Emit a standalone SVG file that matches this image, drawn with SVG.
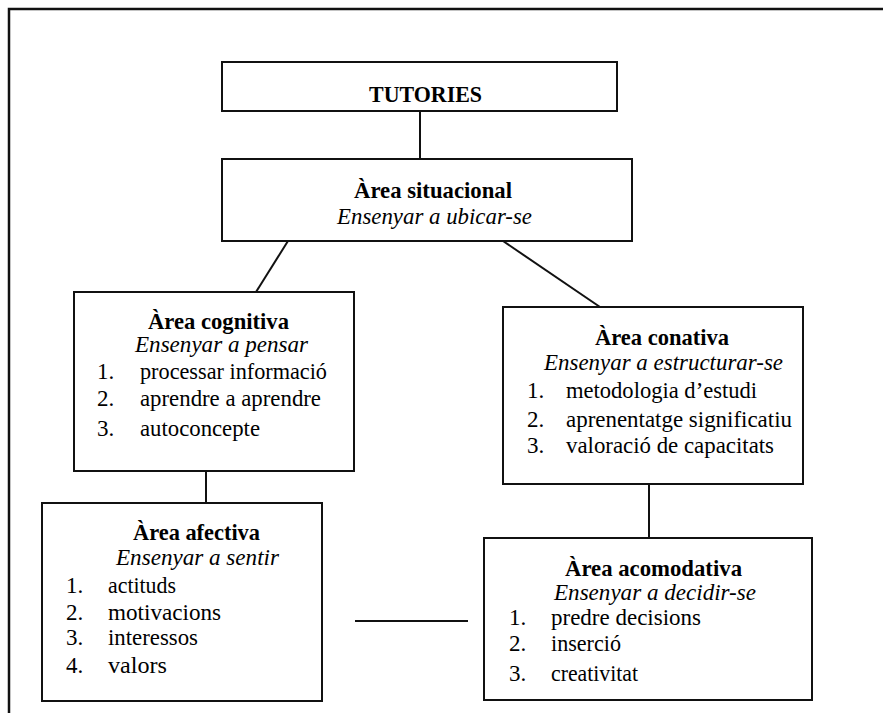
<svg xmlns="http://www.w3.org/2000/svg" width="883" height="713" viewBox="0 0 883 713">
  <style>
    .frame { fill: none; stroke: #111; stroke-width: 2.5; }
    .box { fill: #fff; stroke: #111; stroke-width: 2; }
    .link { fill: none; stroke: #111; stroke-width: 2; }
  </style>

  <rect width="883" height="713" fill="#fff"/>

  <!-- open page frame -->
  <path class="frame" d="M9 713 V9 H883"/>

  <!-- connectors -->
  <g id="connectors">
    <line class="link" x1="420" y1="111" x2="420" y2="159"/>
    <line class="link" x1="288" y1="241" x2="256" y2="292"/>
    <line class="link" x1="503" y1="241" x2="600" y2="307"/>
    <line class="link" x1="206" y1="471" x2="206" y2="503"/>
    <line class="link" x1="649" y1="484" x2="649" y2="538"/>
    <line class="link" x1="355" y1="621" x2="468" y2="621"/>
  </g>

  <g font-family="'Liberation Serif', 'Times New Roman', serif" fill="#000" lengthAdjust="spacingAndGlyphs">
    <g id="tutories">
      <rect class="box" x="222" y="62" width="395" height="49"/>
      <text x="369" y="102" font-size="24" font-weight="bold" textLength="113" lengthAdjust="spacingAndGlyphs">TUTORIES</text>
    </g>

    <g id="area-situacional">
      <rect class="box" x="222" y="159" width="410" height="82"/>
      <text x="354" y="198" font-size="24" font-weight="bold" textLength="158" lengthAdjust="spacingAndGlyphs">Àrea situacional</text>
      <text x="337" y="224" font-size="23" font-style="italic" textLength="195" lengthAdjust="spacingAndGlyphs">Ensenyar a ubicar-se</text>
    </g>

    <g id="area-cognitiva" font-size="23">
      <rect class="box" x="74" y="292" width="280" height="179"/>
      <text x="148" y="329" font-weight="bold" textLength="141" lengthAdjust="spacingAndGlyphs">Àrea cognitiva</text>
      <text x="135" y="352" font-style="italic" textLength="173" lengthAdjust="spacingAndGlyphs">Ensenyar a pensar</text>
      <text x="97" y="379">1.</text>
      <text x="140" y="379" textLength="187" lengthAdjust="spacingAndGlyphs">processar informació</text>
      <text x="97" y="406">2.</text>
      <text x="140" y="406" textLength="181" lengthAdjust="spacingAndGlyphs">aprendre a aprendre</text>
      <text x="97" y="436">3.</text>
      <text x="140" y="436" textLength="120" lengthAdjust="spacingAndGlyphs">autoconcepte</text>
    </g>

    <g id="area-conativa" font-size="23">
      <rect class="box" x="503" y="307" width="300" height="177"/>
      <text x="595" y="345" font-weight="bold" textLength="134" lengthAdjust="spacingAndGlyphs">Àrea conativa</text>
      <text x="544" y="370" font-style="italic" textLength="239" lengthAdjust="spacingAndGlyphs">Ensenyar a estructurar-se</text>
      <text x="527" y="398">1.</text>
      <text x="566" y="398" textLength="191" lengthAdjust="spacingAndGlyphs">metodologia d’estudi</text>
      <text x="527" y="427">2.</text>
      <text x="566" y="427" textLength="226" lengthAdjust="spacingAndGlyphs">aprenentatge significatiu</text>
      <text x="527" y="453">3.</text>
      <text x="566" y="453" textLength="208" lengthAdjust="spacingAndGlyphs">valoració de capacitats</text>
    </g>

    <g id="area-afectiva" font-size="23">
      <rect class="box" x="42" y="503" width="280" height="198"/>
      <text x="133" y="540" font-weight="bold" textLength="127" lengthAdjust="spacingAndGlyphs">Àrea afectiva</text>
      <text x="116" y="565" font-style="italic" textLength="163" lengthAdjust="spacingAndGlyphs">Ensenyar a sentir</text>
      <text x="66" y="593">1.</text>
      <text x="108" y="593" textLength="68" lengthAdjust="spacingAndGlyphs">actituds</text>
      <text x="66" y="620">2.</text>
      <text x="108" y="620" textLength="113" lengthAdjust="spacingAndGlyphs">motivacions</text>
      <text x="66" y="645">3.</text>
      <text x="108" y="645" textLength="90" lengthAdjust="spacingAndGlyphs">interessos</text>
      <text x="66" y="673">4.</text>
      <text x="108" y="673" textLength="59" lengthAdjust="spacingAndGlyphs">valors</text>
    </g>

    <g id="area-acomodativa" font-size="23">
      <rect class="box" x="484" y="538" width="328" height="162"/>
      <text x="565" y="576" font-weight="bold" textLength="177" lengthAdjust="spacingAndGlyphs">Àrea acomodativa</text>
      <text x="554" y="600" font-style="italic" textLength="202" lengthAdjust="spacingAndGlyphs">Ensenyar a decidir-se</text>
      <text x="509" y="625">1.</text>
      <text x="551" y="625" textLength="150" lengthAdjust="spacingAndGlyphs">predre decisions</text>
      <text x="509" y="651">2.</text>
      <text x="551" y="651" textLength="70" lengthAdjust="spacingAndGlyphs">inserció</text>
      <text x="509" y="681">3.</text>
      <text x="551" y="681" textLength="87" lengthAdjust="spacingAndGlyphs">creativitat</text>
    </g>
  </g>
</svg>
